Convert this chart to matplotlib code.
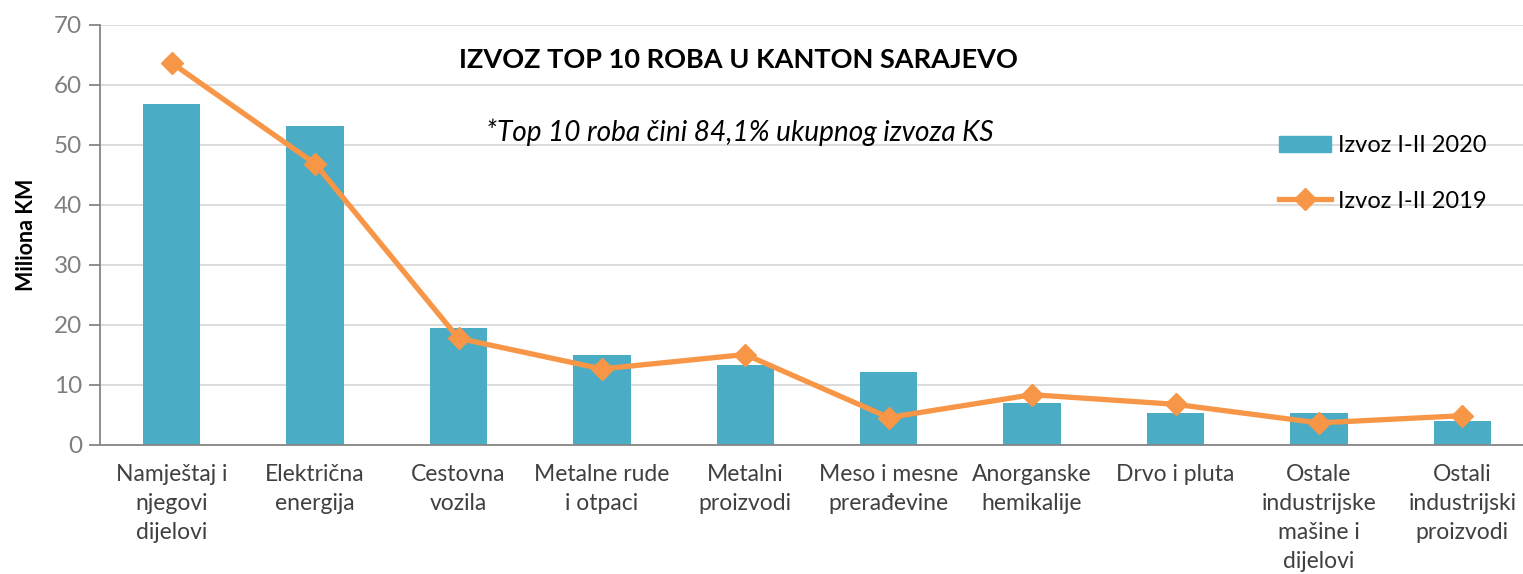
import matplotlib
matplotlib.use("Agg")
import matplotlib.pyplot as plt
from matplotlib.lines import Line2D
from matplotlib.patches import Patch

kategorije = ["Namještaj i\nnjegovi\ndijelovi", "Električna\nenergija", "Cestovna\nvozila",
              "Metalne rude\ni otpaci", "Metalni\nproizvodi", "Meso i mesne\nprerađevine",
              "Anorganske\nhemikalije", "Drvo i pluta", "Ostale\nindustrijske\nmašine i\ndijelovi",
              "Ostali\nindustrijski\nproizvodi"]
izvoz_2020 = [56.8, 53.1, 19.5, 15.0, 13.3, 12.1, 7.0, 5.3, 5.2, 3.9]
izvoz_2019 = [63.6, 46.8, 17.7, 12.6, 15.0, 4.5, 8.3, 6.7, 3.6, 4.8]
y_ticks = [0, 10, 20, 30, 40, 50, 60, 70]

plt.rcParams['font.family'] = ['Lato', 'DejaVu Sans']

W, H = 1523, 574
fig = plt.figure(figsize=(W / 100, H / 100), dpi=100)
ax = fig.add_axes([100 / W, 1 - 444.5 / H, (1534 - 100) / W, 420 / H])

x = list(range(len(kategorije)))
ax.bar(x, izvoz_2020, width=0.4, color="#4BACC6", zorder=2)
ax.plot(x, izvoz_2019, color="#F79646", lw=3.8, marker="D", ms=11.5, zorder=3)

ax.set_xlim(-0.5, 9.5)
ax.set_ylim(0, 70)
ax.set_yticks(y_ticks)
ax.yaxis.grid(True, color="#D9D9D9", lw=1.3, zorder=0)
ax.set_axisbelow(True)
for s in ["top", "right"]:
    ax.spines[s].set_visible(False)
for s in ["left", "bottom"]:
    ax.spines[s].set_color("#868686")
    ax.spines[s].set_linewidth(1.3)
ax.tick_params(axis="y", colors="#868686", labelcolor="#7F7F7F", labelsize=17.5, length=8, width=1.3, pad=5)
ax.tick_params(axis="x", length=0, pad=14)
ax.set_xticks(x)
ax.set_xticklabels(kategorije, fontsize=16.5, color="#404040", linespacing=1.47, va="top")

ax.set_ylabel("Miliona KM", fontsize=15.5, fontweight="bold", labelpad=12)

fig.text(738 / W, 1 - 60 / H, "IZVOZ TOP 10 ROBA U KANTON SARAJEVO", ha="center", va="center",
         fontsize=19.5, fontweight="bold", color="black")
fig.text(740 / W, 1 - 132 / H, "*Top 10 roba čini 84,1% ukupnog izvoza KS", ha="center", va="center",
         fontsize=20.2, style="italic", color="black")

handles = [Patch(color="#4BACC6"),
           Line2D([], [], color="#F79646", lw=3.8, marker="D", ms=11.5)]
leg = ax.legend(handles, ["Izvoz I-II 2020", "Izvoz I-II 2019"], loc="upper left",
                bbox_to_anchor=(1270 / W, 1 - 126 / H), bbox_transform=fig.transFigure,
                frameon=False, fontsize=17, labelspacing=1.45, handlelength=2.2, handletextpad=0.3,
                borderaxespad=0)

fig.savefig("out.png", dpi=100)
